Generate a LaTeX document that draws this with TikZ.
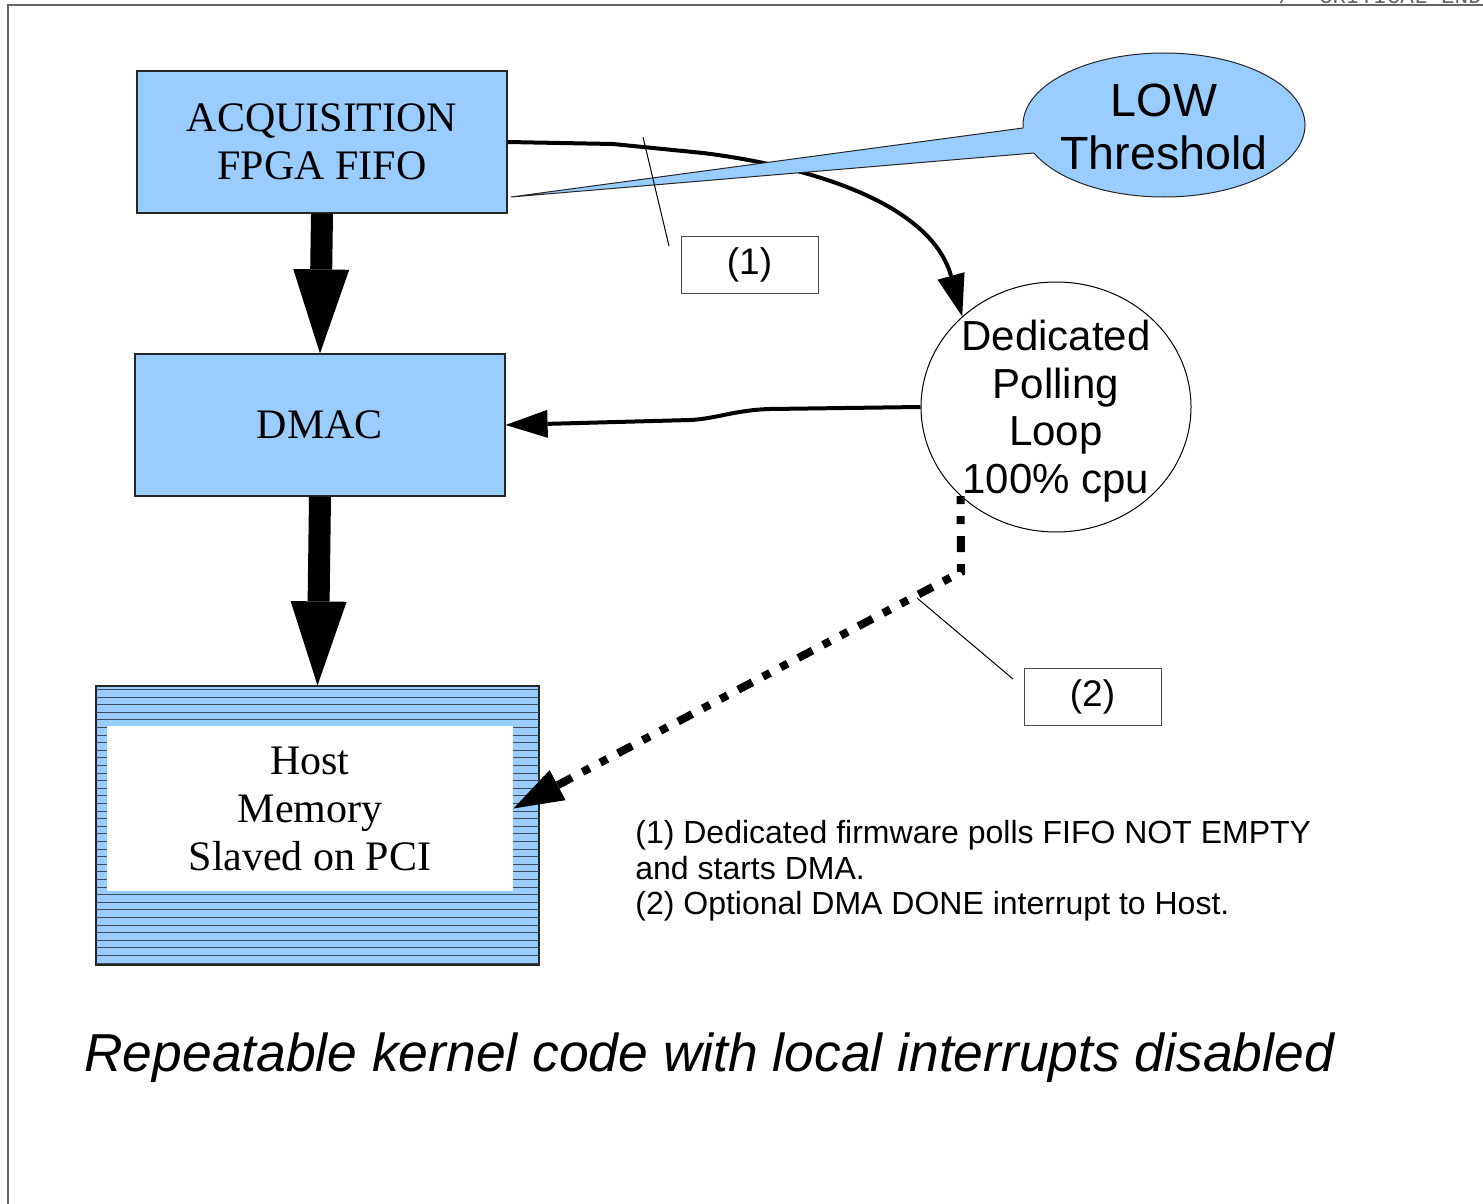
\documentclass[tikz,border=0pt]{standalone}
\usepackage{fontspec}
\setmainfont{Liberation Serif}
\setsansfont{Liberation Sans}
\setmonofont{Liberation Mono}
\usetikzlibrary{shapes.geometric,arrows.meta}
\definecolor{lblue}{HTML}{99CCFF}
\definecolor{stripec}{HTML}{3A4A5C}
\begin{document}
\begin{tikzpicture}[x=0.5pt,y=-0.5pt,
  bluebox/.style={draw=black!85,line width=0.6pt,fill=lblue,inner sep=0pt,align=center,
    minimum width=185pt,minimum height=71pt,font=\fontsize{21}{24}\selectfont},
  labbox/.style={draw=black!70,line width=0.5pt,fill=white,inner sep=0pt,
    minimum width=68.5pt,minimum height=28.5pt,font=\sffamily\fontsize{18.5}{22}\selectfont},
  fatarrow/.style={line width=11pt,-{Triangle[length=42pt,width=28pt,line width=0pt]}},
  flowarrow/.style={line width=2pt,-{Triangle[length=21pt,width=14pt,line width=0pt]}},
  dotarrow/.style={line width=4pt,dash pattern=on 4pt off 6pt on 4pt off 6pt on 8pt off 6pt,-{Triangle[length=25pt,width=17pt,line width=0pt]}},
  leader/.style={line width=0.5pt,black},
  stripeline/.style={line width=0.5pt,stripec}]
\useasboundingbox (0,0) rectangle (1483,1204);

% frame
\draw[black!60,line width=1pt] (8,1204) -- (8,5) -- (1483,5);
\begin{scope}
  \clip (1260,0) rectangle (1483,4.2);
  \node[anchor=base west,inner sep=0pt,text=black!60,font=\ttfamily\fontsize{11.3}{13}\selectfont] (hdr) at (1278,4) {/* CRITICAL END};
\end{scope}

% boxes
\node[bluebox] (acq) at (322,142) {ACQUISITION\\FPGA FIFO};
\node[bluebox] (dmac) at (320,425) {DMAC};

% host memory (striped)
\node[draw=black!85,line width=0.6pt,fill=lblue,inner sep=0pt,minimum width=221.5pt,minimum height=139.5pt] (host) at (317.5,825.5) {};
\foreach \i in {0,...,36} \draw[stripeline] (96,{689.5+\i*7.6}) -- (539,{689.5+\i*7.6});
\draw[black!85,line width=0.6pt] (host.north west) rectangle (host.south east);
\node[fill=white,inner sep=0pt,minimum width=203pt,minimum height=82.5pt,align=center,font=\fontsize{21}{24}\selectfont] (hostin) at (310,808.5) {Host\\Memory\\Slaved on PCI};

% polling loop circle
\node[draw=black,line width=0.5pt,fill=white,ellipse,inner sep=0pt,minimum width=135pt,minimum height=125pt] (poll) at (1056,407) {};
\node[inner sep=0pt,align=center,font=\sffamily\fontsize{21}{23.8}\selectfont] (pollt) at (1056,411) {Dedicated\\Polling\\Loop\\100\% cpu};

% connectors
\draw[fatarrow] (acq.south) -- (dmac.north);
\draw[fatarrow] (dmac.south) -- (host.north);
\draw[flowarrow] (acq.east) -- (613,144) -- (703,153) .. controls (800,165) and (930,200) .. (poll.136);
\draw[flowarrow] (poll.west) -- (770,409) .. controls (735,410) and (715,419) .. (690,420) -- (dmac.east);
\draw[dotarrow] (poll.223) -- (961,572) -- (hostin.east);

% LOW threshold callout
\node[draw=black!85,line width=0.5pt,fill=lblue,ellipse,inner sep=0pt,minimum width=141pt,minimum height=72pt] (lowe) at (1164,125) {};
\coordinate (ctip) at (511,197);
\fill[lblue] (ctip) -- (1023,128) -- (1050,128) -- (1050,153) -- (1034,153) -- cycle;
\draw[black!85,line width=0.5pt] (1023,128) -- (ctip) -- (1034,153);
\node[inner sep=0pt,align=center,font=\sffamily\fontsize{23.3}{26.5}\selectfont] (lowt) at (1164,127) {LOW\\Threshold};

% labels
\node[labbox] (lab1) at (749.5,264.5) {(1)};
\node[labbox] (lab2) at (1092.5,696.5) {(2)};
\coordinate (l1a) at (643,137);
\coordinate (l1b) at (669,246);
\coordinate (l2a) at (917,598);
\coordinate (l2b) at (1013,679);
\draw[leader] (l1a) -- (l1b);
\draw[leader] (l2a) -- (l2b);

% notes
\node[anchor=north west,inner sep=0pt,align=left,font=\sffamily\fontsize{16}{17.75}\selectfont] (notes) at (635,820) {(1) Dedicated firmware polls FIFO NOT EMPTY\\and starts DMA.\\(2) Optional DMA DONE interrupt to Host.};

\node[anchor=base west,inner sep=0pt,font=\sffamily\itshape\fontsize{26.7}{32}\selectfont] (title) at (84,1071) {Repeatable kernel code with local interrupts disabled};
\end{tikzpicture}
\end{document}
